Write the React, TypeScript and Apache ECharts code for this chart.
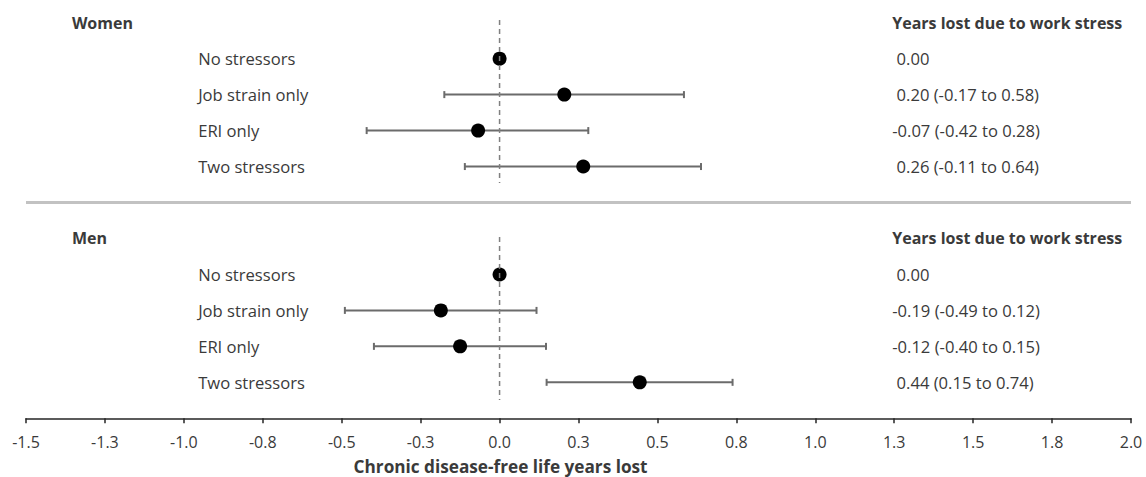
import React, { useEffect, useRef } from "react";
import * as echarts from "echarts";

// ---- Data ----
const groups = ["Women", "Men"];
const rowLabels = ["No stressors", "Job strain only", "ERI only", "Two stressors"];
const columnHeader = "Years lost due to work stress";
const xAxisTitle = "Chronic disease-free life years lost";

const womenEst = [0, 0.205, -0.068, 0.265];
const womenLo = [0, -0.175, -0.421, -0.11];
const womenHi = [0, 0.584, 0.281, 0.638];
const womenText = ["0.00", "0.20 (-0.17 to 0.58)", "-0.07 (-0.42 to 0.28)", "0.26 (-0.11 to 0.64)"];

const menEst = [0, -0.186, -0.125, 0.444];
const menLo = [0, -0.49, -0.398, 0.149];
const menHi = [0, 0.117, 0.147, 0.738];
const menText = ["0.00", "-0.19 (-0.49 to 0.12)", "-0.12 (-0.40 to 0.15)", "0.44 (0.15 to 0.74)"];

const xMin = -1.5;
const xMax = 2.0;
const xInterval = 0.25;

// ---- Layout helpers (row index positions on hidden y axis) ----
const groupRowStart = [1, 7];
const groupHeaderRow = [0, 6];
const separatorRow = 5;
const labelColX = -0.9547;
const headerColX = -1.3546;
const valueColX = 1.2436;

const FONT = "'Open Sans', 'Noto Sans', sans-serif";
const TEXT_COLOR = "#3a3a3a";

export default function App() {
  const ref = useRef<HTMLDivElement>(null);

  useEffect(() => {
    if (!ref.current) return;
    const chart = echarts.init(ref.current, null, { renderer: "svg" });

    const allEst = [womenEst, menEst];
    const allLo = [womenLo, menLo];
    const allHi = [womenHi, menHi];
    const allText = [womenText, menText];

    const barData: any[] = [];
    const dotData: any[] = [];
    const rowLabelData: any[] = [];
    const valueData: any[] = [];
    const headerData: any[] = [];

    groups.forEach((g, gi) => {
      headerData.push({ name: g, value: [headerColX, groupHeaderRow[gi]] });
      headerData.push({ name: columnHeader, value: [valueColX, groupHeaderRow[gi]] });
      rowLabels.forEach((r, ri) => {
        const y = groupRowStart[gi] + ri;
        if (allLo[gi][ri] !== allHi[gi][ri]) {
          barData.push([allLo[gi][ri], allHi[gi][ri], y]);
        }
        dotData.push([allEst[gi][ri], y]);
        rowLabelData.push({ name: r, value: [labelColX, y] });
        const t = allText[gi][ri];
        valueData.push({
          name: t,
          value: [valueColX, y],
          label: { offset: [t.startsWith("-") ? 0 : 4.4, 0] },
        });
      });
    });

    const textSeries = (name: string, data: any[], bold: boolean, size: number) => ({
      type: "scatter",
      name,
      data,
      symbolSize: 0,
      silent: true,
      z: 5,
      itemStyle: { opacity: 1 },
      label: {
        show: true,
        position: [0, 0],
        align: "left",
        verticalAlign: "middle",
        formatter: "{b}",
        fontFamily: FONT,
        fontSize: size,
        fontWeight: bold ? "bold" : "normal",
        color: TEXT_COLOR,
        opacity: 1,
      },
    });

    const option: any = {
      animation: false,
      grid: { left: 26, right: 15, top: 4.7, height: 413.6, containLabel: false },
      xAxis: {
        type: "value",
        min: xMin,
        max: xMax,
        interval: xInterval,
        position: "bottom",
        splitLine: { show: false },
        axisLine: { show: true, onZero: false, lineStyle: { color: "#262626", width: 1.5 } },
        axisTick: { show: true, inside: false, length: 5, lineStyle: { color: "#262626", width: 1.5 } },
        axisLabel: {
          formatter: (v: number) => v.toFixed(1),
          fontFamily: FONT,
          fontSize: 16,
          color: TEXT_COLOR,
          margin: 16,
        },
      },
      yAxis: {
        type: "value",
        min: -0.5,
        max: 11,
        inverse: true,
        show: false,
      },
      series: [
        {
          type: "line",
          data: [
            [xMin, separatorRow],
            [xMax, separatorRow],
          ],
          symbol: "none",
          silent: true,
          lineStyle: { color: "#c2c2c2", width: 3 },
          z: 1,
        },
        {
          type: "custom",
          data: barData,
          encode: { x: [0, 1], y: 2 },
          z: 2,
          renderItem: (params: any, api: any) => {
            const lo = api.value(0);
            const hi = api.value(1);
            const y = api.value(2);
            const p1 = api.coord([lo, y]);
            const p2 = api.coord([hi, y]);
            const h = 3.5;
            const st = { stroke: "#6b6b6b", lineWidth: 2 };
            return {
              type: "group",
              children: [
                { type: "line", shape: { x1: p1[0], y1: p1[1], x2: p2[0], y2: p2[1] }, style: st },
                { type: "line", shape: { x1: p1[0], y1: p1[1] - h, x2: p1[0], y2: p1[1] + h }, style: st },
                { type: "line", shape: { x1: p2[0], y1: p2[1] - h, x2: p2[0], y2: p2[1] + h }, style: st },
              ],
            };
          },
        },
        {
          type: "scatter",
          data: dotData,
          symbol: "circle",
          symbolSize: 14,
          itemStyle: { color: "#000000", opacity: 1 },
          z: 3,
        },
        {
          type: "line",
          data: [
            [0, -0.075],
            [0, 4.46],
          ],
          symbol: "none",
          silent: true,
          lineStyle: { color: "#808080", width: 1.5, type: [5, 4] },
          z: 4,
        },
        {
          type: "line",
          data: [
            [0, 5.96],
            [0, 10.49],
          ],
          symbol: "none",
          silent: true,
          lineStyle: { color: "#808080", width: 1.5, type: [5, 4] },
          z: 4,
        },
        textSeries("headers", headerData, true, 16),
        textSeries("rowLabels", rowLabelData, false, 16.6),
        textSeries("values", valueData, false, 16.6),
      ],
    };

    chart.setOption(option);
    const zeroX = chart.convertToPixel({ xAxisIndex: 0 }, 0) as number;
    chart.setOption({
      graphic: [
        {
          type: "text",
          x: zeroX + 1,
          y: 466,
          style: {
            text: xAxisTitle,
            fontFamily: FONT,
            fontSize: 17.2,
            fontWeight: "bold",
            fill: TEXT_COLOR,
            textAlign: "center",
            textVerticalAlign: "middle",
          },
        },
      ],
    });

    return () => chart.dispose();
  }, []);

  return (
    <div
      ref={ref}
      style={{ position: "fixed", left: 0, top: 0, width: 1146, height: 477, background: "#fff" }}
    />
  );
}
